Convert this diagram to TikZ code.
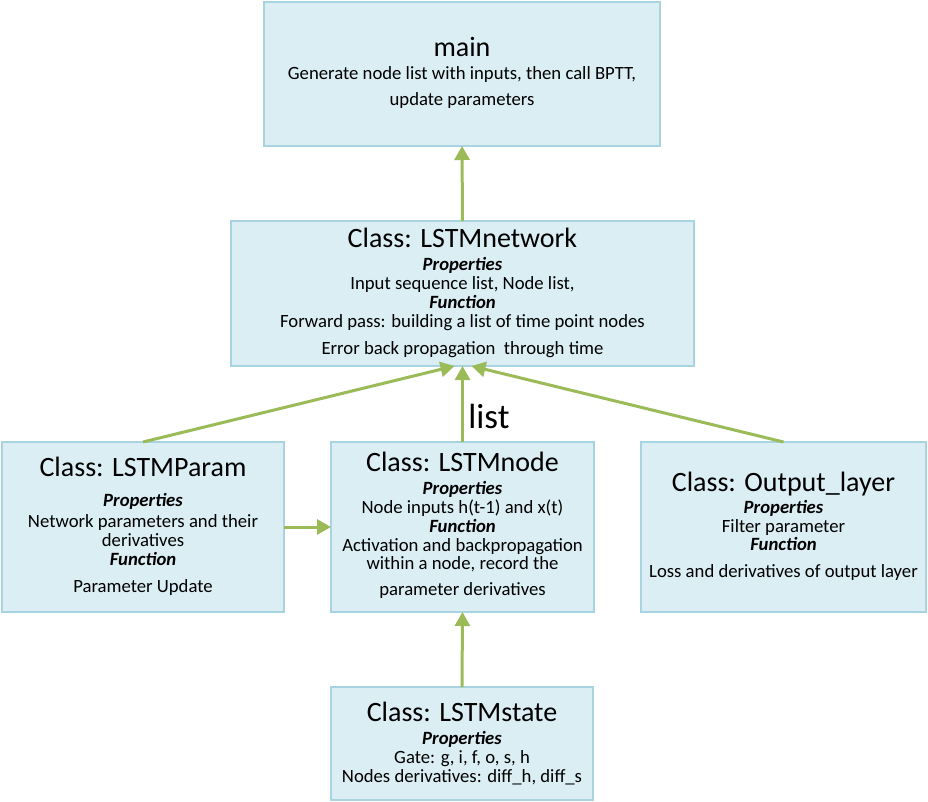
\documentclass[tikz,border=0pt]{standalone}
\usepackage{fontspec}
\setmainfont{Carlito}
\usetikzlibrary{arrows.meta}
\definecolor{boxfill}{HTML}{DAEEF3}
\definecolor{boxline}{HTML}{A8D3E0}
\definecolor{arrowgreen}{HTML}{9BBB59}
\tikzset{
  box/.style={draw=boxline, fill=boxfill, line width=1.5pt, rectangle, inner sep=0pt, outer sep=0pt},
  ttl/.style={inner sep=0pt, text height=0.64em, text depth=0pt, yshift=-5pt, font=\fontsize{28}{31}\selectfont},
  txt/.style={inner sep=0pt, text height=0.64em, text depth=0pt, yshift=-3pt, font=\fontsize{18.7}{21}\selectfont},
  hdr/.style={inner sep=0pt, text height=0.64em, text depth=0pt, yshift=-3pt, font=\fontsize{18.7}{21}\selectfont\bfseries\itshape},
  conn/.style={draw=arrowgreen, line width=3pt, -{Triangle[length=14pt,width=15pt]}},
}
\begin{document}
\begin{tikzpicture}[x=1pt,y=-1pt]
\useasboundingbox (0,0) rectangle (928,802);
% boxes
\node[box, minimum width=396pt, minimum height=144pt] (main) at (462,74) {};
\node[box, minimum width=463pt, minimum height=145pt] (network) at (462.5,293.5) {};
\node[box, minimum width=282pt, minimum height=170pt] (param) at (143,527) {};
\node[box, minimum width=263pt, minimum height=170pt] (lnode) at (462.5,527) {};
\node[box, minimum width=285pt, minimum height=170pt] (output) at (783.5,527) {};
\node[box, minimum width=262pt, minimum height=113pt] (state) at (462,743.5) {};
% main
\node[ttl] (mainT) at (462,48) {main};
\node[txt] (mainA) at (462,73) {Generate node list with inputs, then call BPTT,};
\node[txt] (mainB) at (462,99) {update parameters};
% network
\node[ttl] (netT) at (462.5,239) {Class: LSTMnetwork};
\node[hdr] (netP) at (462.5,264) {Properties};
\node[txt] (netA) at (462.5,283) {Input sequence list, Node list,};
\node[hdr] (netF) at (462.5,302) {Function};
\node[txt] (netB) at (462.5,321) {Forward pass: building a list of time point nodes};
\node[txt] (netC) at (462.5,348) {Error back propagation\ \ through time};
% param
\node[ttl] (parT) at (143,468) {Class: LSTMParam};
\node[hdr] (parP) at (143,500) {Properties};
\node[txt] (parA) at (143,521) {Network parameters and their};
\node[txt] (parB) at (143,540) {derivatives};
\node[hdr] (parF) at (143,559) {Function};
\node[txt] (parC) at (143,586) {Parameter Update};
% lnode
\node[ttl] (ndT) at (462.5,463) {Class: LSTMnode};
\node[hdr] (ndP) at (462.5,488) {Properties};
\node[txt] (ndA) at (462.5,507) {Node inputs h(t-1) and x(t)};
\node[hdr] (ndF) at (462.5,526) {Function};
\node[txt] (ndB) at (462.5,545) {Activation and backpropagation};
\node[txt] (ndC) at (462.5,563) {within a node, record the};
\node[txt] (ndD) at (462.5,589) {parameter derivatives};
% output
\node[ttl] (outT) at (783.5,483) {Class: Output\_layer};
\node[hdr] (outP) at (783.5,507) {Properties};
\node[txt] (outA) at (783.5,526) {Filter parameter};
\node[hdr] (outF) at (783.5,544) {Function};
\node[txt] (outB) at (783.5,571) {Loss and derivatives of output layer};
% state
\node[ttl] (stT) at (462,713) {Class: LSTMstate};
\node[hdr] (stP) at (462,738) {Properties};
\node[txt] (stA) at (462,757) {Gate: g, i, f, o, s, h};
\node[txt] (stB) at (462,776) {Nodes derivatives: diff\_h, diff\_s};
% connectors
\draw[conn] (network.north) -- (main.south);
\draw[conn] (lnode.north) -- (network.south);
\draw[conn] (param.north) -- ([xshift=-8pt]network.south);
\draw[conn] (output.north) -- ([xshift=9pt]network.south);
\draw[conn] (param.east) -- (lnode.west);
\draw[conn] (state.north) -- (lnode.south);
\node[inner sep=0pt, text height=0.7em, text depth=0pt, yshift=-4pt, font=\fontsize{35}{38}\selectfont] (lstlabel) at (489,420.5) {list};
\end{tikzpicture}
\end{document}
